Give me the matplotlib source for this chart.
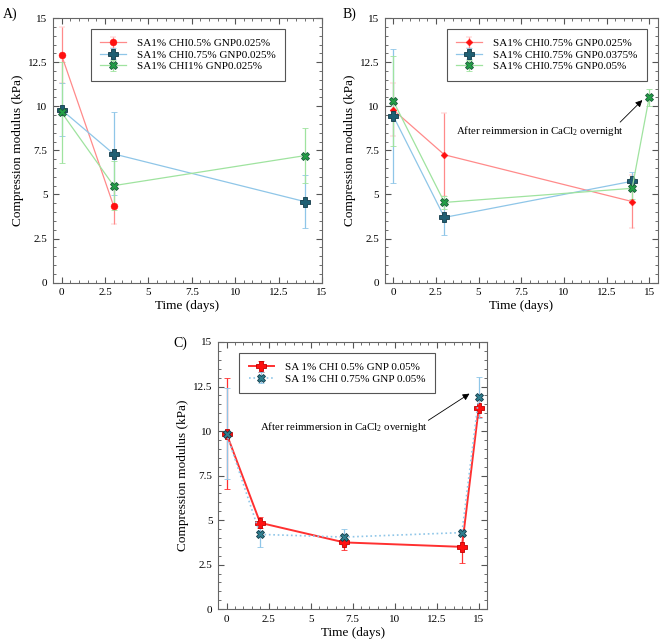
import matplotlib
matplotlib.use("Agg")
import matplotlib.pyplot as plt
from matplotlib.ticker import MultipleLocator, FuncFormatter

plt.rcParams["font.family"] = ["Liberation Serif", "DejaVu Serif"]
plt.rcParams["mathtext.fontset"] = "custom"
plt.rcParams["mathtext.rm"] = "Liberation Serif"

# ---- Panel A data ----
a_red_x = [0, 3]
a_red_y = [12.9, 4.35]
a_red_err = [1.6, 1.0]
a_blue_x = [0, 3, 14]
a_blue_y = [9.8, 7.3, 4.6]
a_blue_err = [1.5, 2.35, 1.5]
a_green_x = [0, 3, 14]
a_green_y = [9.65, 5.5, 7.2]
a_green_err = [2.85, 1.4, 1.55]
a_labels = ["SA1% CHI0.5% GNP0.025%", "SA1% CHI0.75% GNP0.025%", "SA1% CHI1% GNP0.025%"]

# ---- Panel B data ----
b_red_x = [0, 3, 14]
b_red_y = [9.8, 7.25, 4.6]
b_red_err = [1.5, 2.35, 1.5]
b_blue_x = [0, 3, 14]
b_blue_y = [9.45, 3.7, 5.75]
b_blue_err = [3.8, 1.0, 0.55]
b_green_x = [0, 3, 14, 15]
b_green_y = [10.3, 4.55, 5.35, 10.5]
b_green_err = [2.55, 0.35, 0.6, 0.5]
b_labels = ["SA1% CHI0.75% GNP0.025%", "SA1% CHI0.75% GNP0.0375%", "SA1% CHI0.75% GNP0.05%"]

# ---- Panel C data ----
c_x = [0, 2, 7, 14, 15]
c_red_y = [9.85, 4.85, 3.75, 3.5, 11.3]
c_red_err = [3.1, 0.3, 0.4, 0.9, 0.5]
c_blue_y = [9.85, 4.2, 4.05, 4.3, 11.9]
c_blue_err = [2.55, 0.7, 0.45, 0.2, 1.15]
c_labels = ["SA 1% CHI 0.5% GNP 0.05%", "SA 1% CHI 0.75% GNP 0.05%"]

note = "After reimmersion in CaCl$_2$ overnight"

RED_L, RED_M = "#ff8a8a", "#ff1010"
BLUE_L, BLUE_M, BLUE_E = "#8fc6e8", "#1f5f73", "#123a48"
GREEN_L, GREEN_M, GREEN_E = "#9fe39f", "#22a045", "#1a5a3a"


def style_axes(ax, xmax):
    ax.set_xlim(-0.5, xmax)
    ax.set_ylim(0, 15)
    ax.xaxis.set_major_locator(MultipleLocator(2.5))
    ax.yaxis.set_major_locator(MultipleLocator(2.5))
    ax.xaxis.set_minor_locator(MultipleLocator(0.5))
    ax.yaxis.set_minor_locator(MultipleLocator(0.5))
    fmt = FuncFormatter(lambda v, p: "%g" % v)
    ax.xaxis.set_major_formatter(fmt)
    ax.yaxis.set_major_formatter(fmt)
    ax.tick_params(which="both", direction="in", top=True, right=True,
                   labelsize=8, color="#555555")
    ax.tick_params(which="major", length=4, pad=4)
    ax.tick_params(which="minor", length=2)
    for s in ax.spines.values():
        s.set_color("#666666")
        s.set_linewidth(0.8)
    ax.set_xlabel("Time (days)", fontsize=9.5, labelpad=2)
    ax.set_ylabel("Compression modulus (kPa)", fontsize=9.5, labelpad=3)


def series(ax, x, y, e, lc, marker, mfc, mec, ms, label, ls="-", lw=0.9, mew=0.6):
    ax.errorbar(x, y, yerr=e, color=lc, ecolor=lc, elinewidth=0.9, capsize=2.5,
                capthick=0.9, linestyle=ls, linewidth=lw, marker=marker,
                markersize=ms, markerfacecolor=mfc, markeredgecolor=mec,
                markeredgewidth=mew, label=label)


def legend(ax, bbox):
    lg = ax.legend(loc="upper left", bbox_to_anchor=bbox, fontsize=8,
                   fancybox=False, edgecolor="#555555", framealpha=1,
                   handlelength=2.3, borderpad=0.85, labelspacing=0.15,
                   handletextpad=1.0, borderaxespad=0)
    lg.get_frame().set_linewidth(0.8)


fig = plt.figure(figsize=(6.61, 6.44), dpi=100)

# Panel A
axA = fig.add_axes([0.080, 0.561, 0.407, 0.411])
series(axA, a_red_x, a_red_y, a_red_err, RED_L, "o", RED_M, RED_M, 5, a_labels[0], mew=0.3)
series(axA, a_blue_x, a_blue_y, a_blue_err, BLUE_L, "P", BLUE_M, BLUE_E, 7, a_labels[1])
series(axA, a_green_x, a_green_y, a_green_err, GREEN_L, "X", GREEN_M, GREEN_E, 6, a_labels[2])
style_axes(axA, 15)
legend(axA, (0.14, 0.958))
fig.text(0.005, 0.988, "A)", fontsize=10, va="top")

# Panel B
axB = fig.add_axes([0.582, 0.561, 0.413, 0.411])
series(axB, b_red_x, b_red_y, b_red_err, RED_L, "D", RED_M, RED_M, 3.5, b_labels[0], mew=0.3)
series(axB, b_blue_x, b_blue_y, b_blue_err, BLUE_L, "P", BLUE_M, BLUE_E, 7, b_labels[1])
series(axB, b_green_x, b_green_y, b_green_err, GREEN_L, "X", GREEN_M, GREEN_E, 6, b_labels[2])
style_axes(axB, 15.5)
legend(axB, (0.227, 0.958))
axB.annotate("", xy=(14.6, 10.35), xytext=(13.3, 9.1),
             arrowprops=dict(arrowstyle="-|>", color="black", lw=0.6,
                             mutation_scale=10, shrinkA=0, shrinkB=0))
axB.text(8.6, 8.6, note, fontsize=7.8, ha="center", va="center")
fig.text(0.518, 0.988, "B)", fontsize=10, va="top")

# Panel C
axC = fig.add_axes([0.330, 0.054, 0.407, 0.415])
series(axC, c_x, c_red_y, c_red_err, "#ff3030", "P", RED_M, "#c00000", 7, c_labels[0], lw=1.4)
series(axC, c_x, c_blue_y, c_blue_err, BLUE_L, "X", "#2f7f8f", BLUE_E, 6, c_labels[1], ls=":", lw=1.2)
style_axes(axC, 15.5)
legend(axC, (0.078, 0.959))
axC.annotate("", xy=(14.45, 12.1), xytext=(12.0, 10.6),
             arrowprops=dict(arrowstyle="-|>", color="black", lw=0.6,
                             mutation_scale=10, shrinkA=0, shrinkB=0))
axC.text(7.0, 10.2, note, fontsize=7.8, ha="center", va="center")
fig.text(0.263, 0.478, "C)", fontsize=10, va="top")

fig.savefig("out.png", dpi=100)
